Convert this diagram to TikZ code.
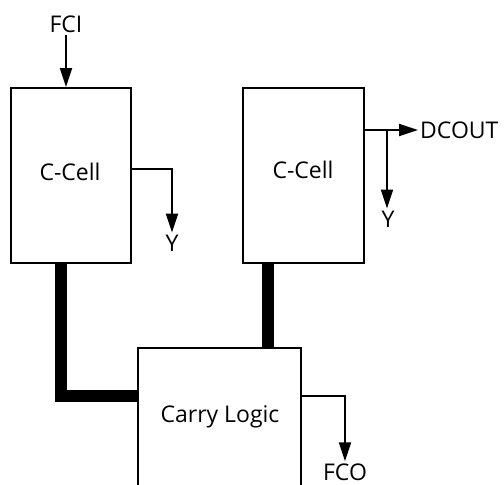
\documentclass[tikz,border=0pt]{standalone}
\usepackage{fontspec}
\setmainfont{Open Sans}
\usetikzlibrary{arrows.meta}
\begin{document}
\begin{tikzpicture}[x=1pt,y=-1pt,
  cell/.style={draw,line width=2pt,rectangle,inner sep=0pt},
  lbl/.style={inner sep=2pt,font=\fontsize{23}{27}\selectfont},
  arr/.style={line width=2pt,-{Triangle[length=19pt,width=12pt]}},
  bus/.style={line width=12pt,line cap=butt,line join=miter}]
\clip (0,0) rectangle (504,485);
\fill[white] (0,0) rectangle (504,485);
% boxes
\node[cell,minimum width=120pt,minimum height=175pt] (lc) at (71,175.5) {};
\node[cell,minimum width=121pt,minimum height=175pt] (rc) at (303.5,175.5) {};
\node[cell,minimum width=163pt,minimum height=172pt] (carry) at (219.5,434) {};
\node[lbl] (lct) at (70,172) {C-Cell};
\node[lbl] (rct) at (303,170) {C-Cell};
\node[lbl] (ct) at (220,417) {Carry Logic};
% labels
\node[lbl] (fci) at (66,24) {FCI};
\node[lbl] (ly) at (172,243) {Y};
\node[lbl,anchor=west] (dcout) at (418,130) {DCOUT};
\node[lbl] (ry) at (388,219) {Y};
\node[lbl] (fco) at (345,472) {FCO};
% coordinates
\coordinate (lyo) at (172,169);
\coordinate (br) at (387,130);
\coordinate (lb) at (61,396);
\coordinate (rb) at (267.5,348);
\coordinate (fo) at (345,396);
% connectors
\draw[arr] (fci.south) -- (fci.south |- lc.north);
\draw[arr] (lyo -| lc.east) -| (ly.north);
\draw[arr] (br -| rc.east) -- (dcout.west);
\draw[arr] (br) -- (br |- ry.north);
\draw[arr] (fo -| carry.east) -| (fco.north);
\draw[bus] (lb |- lc.south) -- (lb) -- (lb -| carry.west);
\draw[bus] (rb |- rc.south) -- (rb |- carry.north);
\end{tikzpicture}
\end{document}
